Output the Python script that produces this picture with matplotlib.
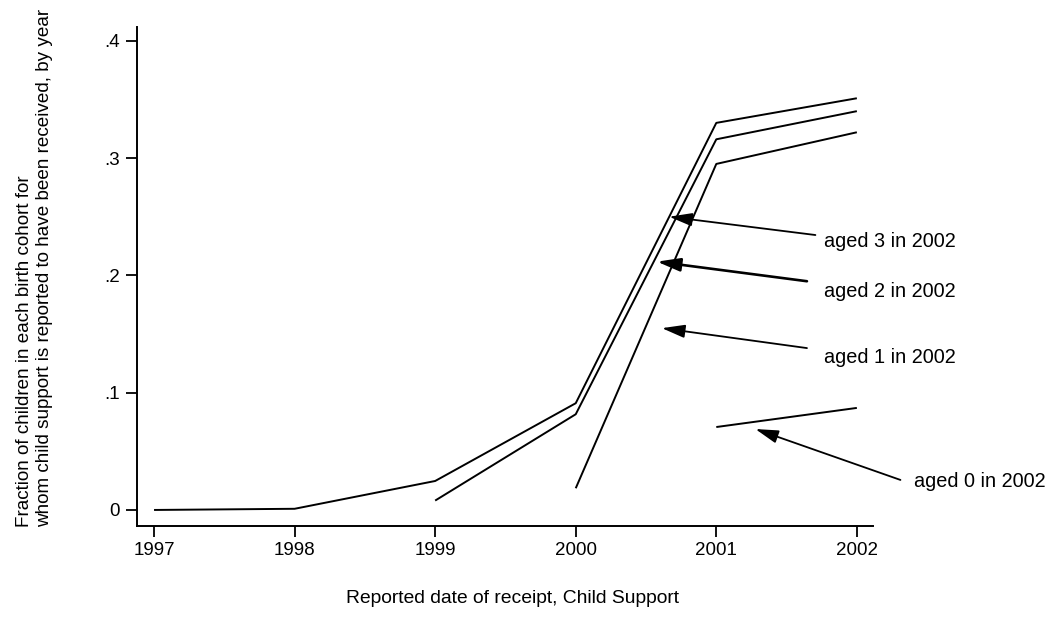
import numpy as np
import matplotlib
matplotlib.use("Agg")
import matplotlib.pyplot as plt

plt.rcParams['font.family'] = ['Liberation Sans', 'DejaVu Sans']

# each cohort's line
years_3 = [1997, 1998, 1999, 2000, 2001, 2002]
aged_3 = [0.0, 0.001, 0.0247, 0.091, 0.330, 0.351]
years_2 = [1999, 2000, 2001, 2002]
aged_2 = [0.008, 0.0816, 0.316, 0.340]
years_1 = [2000, 2001, 2002]
aged_1 = [0.0185, 0.295, 0.322]
years_0 = [2001, 2002]
aged_0 = [0.0707, 0.087]

labels = ["aged 3 in 2002", "aged 2 in 2002", "aged 1 in 2002", "aged 0 in 2002"]
arrow_tip = [(2000.665, 0.250), (2000.578, 0.2117), (2000.613, 0.155), (2001.278, 0.069)]
arrow_tail = [(2001.705, 0.2344), (2001.645, 0.195), (2001.645, 0.138), (2002.31, 0.0256)]
label_pos = [(2001.765, 0.229), (2001.765, 0.186), (2001.765, 0.130), (2002.405, 0.024)]

fig = plt.figure(figsize=(10.52, 6.21), dpi=100)
ax = fig.add_axes([0.130, 0.1535, 0.700, 0.8035])

for xs, ys in [(years_3, aged_3), (years_2, aged_2), (years_1, aged_1), (years_0, aged_0)]:
    ax.plot(xs, ys, color='black', lw=1.4, solid_capstyle='butt')

for i in range(len(labels)):
    lw = 1.9 if i == 1 else 1.3
    ax.annotate('', xy=arrow_tip[i], xytext=arrow_tail[i],
                arrowprops=dict(arrowstyle='-|>,head_length=0.7,head_width=0.2',
                                mutation_scale=20, lw=lw, color='black',
                                shrinkA=0, shrinkB=0), annotation_clip=False)
    ax.text(label_pos[i][0], label_pos[i][1], labels[i], fontsize=14.3,
            ha='left', va='center', clip_on=False)

ax.set_xlim(1996.877, 2002.116)
ax.set_ylim(-0.0134, 0.412)
ax.set_xticks([1997, 1998, 1999, 2000, 2001, 2002])
ax.set_yticks([0, 0.1, 0.2, 0.3, 0.4])
ax.set_yticklabels(['0', '.1', '.2', '.3', '.4'])
ax.tick_params(direction='out', length=8, width=1.3, labelsize=13.5, pad=4)
for s in ['top', 'right']:
    ax.spines[s].set_visible(False)
for s in ['left', 'bottom']:
    ax.spines[s].set_linewidth(1.4)

fig.text(0.487, 0.037, "Reported date of receipt, Child Support", fontsize=13.9,
         ha='center', va='center')
fig.text(0.033, 0.151, "Fraction of children in each birth cohort for\n"
         "whom child support is reported to have been received, by year",
         fontsize=13.6, rotation=90, ha='center', va='bottom',
         multialignment='left', linespacing=1.25)

fig.savefig("out.png", dpi=100)
